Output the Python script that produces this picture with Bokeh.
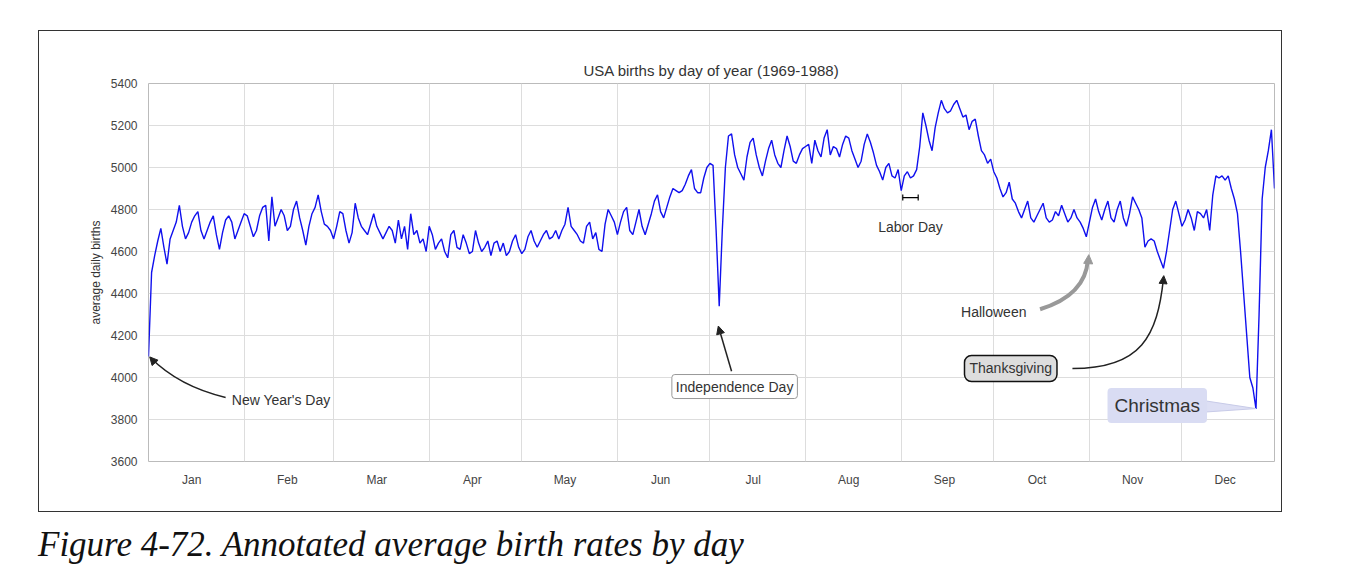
import numpy as np
from bokeh.plotting import figure
from bokeh.models import (FixedTicker, Label, Arrow, NormalHead, TeeHead, Div,
                          Range1d)
from bokeh.layouts import column
from bokeh.embed import file_html
from bokeh.resources import INLINE

# average births per day of year (leap year, Jan 1 = day 0)
jan = [4100, 4500, 4580, 4650, 4710, 4620, 4540,
       4660, 4700, 4740, 4820, 4720, 4660, 4690,
       4740, 4770, 4790, 4700, 4660, 4700, 4740,
       4770, 4680, 4610, 4690, 4750, 4770, 4740,
       4660, 4700, 4740]
feb = [4780, 4770, 4720, 4670, 4700, 4770, 4810,
       4820, 4650, 4860, 4720, 4760, 4800, 4770,
       4700, 4720, 4800, 4840, 4760, 4700, 4630,
       4720, 4780, 4810, 4870, 4790, 4730, 4720,
       4700]
mar = [4660, 4720, 4790, 4780, 4700, 4640, 4690,
       4830, 4760, 4720, 4700, 4680, 4730, 4780,
       4720, 4690, 4660, 4690, 4720, 4700, 4640,
       4750, 4660, 4720, 4610, 4780, 4680, 4700,
       4640, 4660, 4600]
apr = [4720, 4680, 4610, 4640, 4660, 4600, 4570,
       4680, 4700, 4620, 4610, 4680, 4640, 4590,
       4600, 4700, 4640, 4600, 4620, 4650, 4580,
       4640, 4650, 4600, 4640, 4580, 4600, 4650,
       4680, 4620]
may = [4590, 4610, 4670, 4700, 4650, 4620, 4650,
       4680, 4700, 4660, 4670, 4700, 4660, 4700,
       4730, 4810, 4720, 4700, 4680, 4650, 4640,
       4720, 4740, 4660, 4690, 4610, 4600, 4730,
       4800, 4770, 4740]
jun = [4680, 4740, 4790, 4810, 4700, 4680, 4740,
       4800, 4720, 4680, 4730, 4780, 4840, 4870,
       4790, 4760, 4810, 4860, 4900, 4890, 4880,
       4890, 4920, 4960, 4990, 4900, 4880, 4880,
       4950, 5000]
jul = [5020, 5010, 4700, 4340, 4700, 5000, 5150,
       5160, 5060, 5000, 4970, 4940, 5050, 5120,
       5140, 5060, 5000, 4960, 5030, 5090, 5130,
       5060, 5020, 5000, 5080, 5150, 5100, 5030,
       5020, 5060, 5090]
aug = [5100, 5110, 5020, 5130, 5080, 5050, 5140,
       5180, 5060, 5100, 5090, 5050, 5110, 5150,
       5140, 5080, 5040, 5000, 5030, 5110, 5160,
       5120, 5070, 5010, 4980, 4940, 5000, 5020,
       4960, 4950, 4990]
sep = [4890, 4960, 4980, 4950, 4960, 4990, 5100,
       5260, 5200, 5130, 5080, 5190, 5260, 5320,
       5280, 5260, 5270, 5300, 5320, 5280, 5240,
       5250, 5180, 5220, 5230, 5150, 5080, 5060,
       5020, 5040]
oct_ = [4980, 4950, 4900, 4860, 4880, 4930, 4850,
        4830, 4790, 4760, 4800, 4840, 4760, 4740,
        4770, 4800, 4830, 4760, 4740, 4750, 4790,
        4770, 4820, 4780, 4740, 4760, 4800, 4760,
        4740, 4710, 4670]
nov = [4740, 4810, 4850, 4790, 4750, 4800, 4840,
       4760, 4740, 4800, 4840, 4760, 4720, 4780,
       4860, 4830, 4800, 4760, 4620, 4650, 4660,
       4650, 4600, 4560, 4520, 4600, 4700, 4800,
       4840, 4780]
dec = [4720, 4750, 4800, 4760, 4700, 4790, 4780,
       4760, 4800, 4700, 4870, 4960, 4950, 4960,
       4940, 4960, 4900, 4850, 4780, 4600, 4400,
       4200, 4000, 3950, 3850, 4300, 4850, 5000,
       5080, 5180, 4900]

births = jan + feb + mar + apr + may + jun + jul + aug + sep + oct_ + nov + dec
days = list(range(len(births)))

month_names = ['Jan', 'Feb', 'Mar', 'Apr', 'May', 'Jun',
               'Jul', 'Aug', 'Sep', 'Oct', 'Nov', 'Dec']
month_starts = [0, 31, 60, 91, 121, 152, 182, 213, 244, 274, 305, 335]
month_mids = [m + 14 for m in month_starts]

FONT = "Liberation Sans"

p = figure(width=1244, height=482, output_backend="svg", toolbar_location=None,
           x_range=Range1d(0, 365), y_range=Range1d(3600, 5400),
           title="USA births by day of year (1969-1988)")
p.margin = (30, 0, 0, 38)
p.styles = {"border": "1px solid #333"}
p.min_border_left = 109
p.min_border_right = 9
p.min_border_top = 52
p.min_border_bottom = 52

p.title.align = "center"
p.title.text_font = FONT
p.title.text_font_size = "15px"
p.title.text_font_style = "normal"
p.title.text_color = "#333333"

p.outline_line_color = "#bbbbbb"
p.background_fill_color = "white"

p.xaxis.ticker = FixedTicker(ticks=month_mids)
p.xaxis.major_label_overrides = {m: n for m, n in zip(month_mids, month_names)}
p.xgrid.ticker = FixedTicker(ticks=month_starts)
p.yaxis.ticker = FixedTicker(ticks=list(range(3600, 5401, 200)))
p.grid.grid_line_color = "#dddddd"
for ax in (p.xaxis, p.yaxis):
    ax.axis_line_color = None
    ax.major_tick_line_color = None
    ax.minor_tick_line_color = None
    ax.major_label_text_font = FONT
    ax.major_label_text_font_size = "12px"
    ax.major_label_text_color = "#444444"
p.yaxis.axis_label = "average daily births"
p.yaxis.axis_label_text_font = FONT
p.yaxis.axis_label_text_font_size = "12px"
p.yaxis.axis_label_text_font_style = "normal"
p.yaxis.axis_label_text_color = "#333333"

p.line(days, births, line_color="#1010ee", line_width=1.4)

txt = dict(text_font=FONT, text_font_size="14px", text_color="#333333")

# New Year's Day
p.add_layout(Label(x=27, y=3895, text="New Year's Day", text_baseline="middle", **txt))
p.bezier(x0=[25], y0=[3905], x1=[0.6], y1=[4095], cx0=[12], cy0=[3950],
         cx1=[5], cy1=[4030], line_color="#222222", line_width=1.5)
p.add_layout(Arrow(end=NormalHead(size=8, fill_color="#222222", line_color="#222222"),
                   x_start=1.8, y_start=4075, x_end=0.4, y_end=4098, line_alpha=0))

# Independence Day
p.add_layout(Label(x=190, y=3957, text="Independence Day", text_align="center",
                   text_baseline="middle", background_fill_color="white",
                   border_line_color="#999999", padding=4, border_radius=3, **txt))
p.add_layout(Arrow(end=NormalHead(size=8, fill_color="#222222", line_color="#222222"),
                   x_start=189, y_start=4030, x_end=184.7, y_end=4245,
                   line_color="#222222", line_width=1.5))

# Labor Day
p.add_layout(Label(x=247, y=4719, text="Labor Day", text_align="center",
                   text_baseline="middle", **txt))
p.add_layout(Arrow(start=TeeHead(size=6, line_width=1.2), end=TeeHead(size=6, line_width=1.2),
                   x_start=244.5, y_start=4857, x_end=249.5, y_end=4857, line_width=1.2))

# Halloween
p.add_layout(Label(x=274, y=4310, text="Halloween", text_align="center",
                   text_baseline="middle", **txt))
p.bezier(x0=[289], y0=[4325], x1=[304.5], y1=[4560], cx0=[299], cy0=[4370],
         cx1=[304], cy1=[4450], line_color="#999999", line_width=4)
p.add_layout(Arrow(end=NormalHead(size=9, fill_color="#999999", line_color="#999999"),
                   x_start=304.6, y_start=4540, x_end=304.8, y_end=4585, line_alpha=0))

# Thanksgiving
p.add_layout(Label(x=279.5, y=4043, text="Thanksgiving", text_align="center",
                   text_baseline="middle", background_fill_color="#dddddd",
                   border_line_color="#111111", border_line_width=1.5,
                   padding=5, border_radius=7, **txt))
p.bezier(x0=[299.5], y0=[4043], x1=[329], y1=[4470], cx0=[322], cy0=[4043],
         cx1=[327], cy1=[4200], line_color="#222222", line_width=1.5)
p.add_layout(Arrow(end=NormalHead(size=8, fill_color="#222222", line_color="#222222"),
                   x_start=328.9, y_start=4450, x_end=329.1, y_end=4485, line_alpha=0))

# Christmas
p.patch(x=[342, 359, 342], y=[3890, 3852, 3835], fill_color="#d9dcf3",
        line_color="#c8cbe8", fill_alpha=0.9)
p.add_layout(Label(x=327, y=3867, text="Christmas", text_align="center",
                   text_baseline="middle", background_fill_color="#d9dcf3",
                   padding=7, border_radius=4, text_font=FONT,
                   text_font_size="19px", text_color="#333333"))

caption = Div(text="Figure 4-72. Annotated average birth rates by day",
              styles={"font-family": "Liberation Serif", "font-style": "italic",
                      "font-size": "35px", "color": "#111"},
              margin=(8, 0, 0, 38))

layout = column(p, caption)
open("out.html", "w").write(file_html(layout, INLINE))
